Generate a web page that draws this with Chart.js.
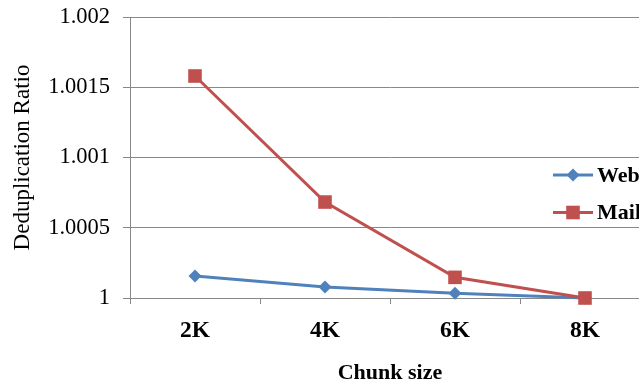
<!DOCTYPE html>
<html>
<head>
<meta charset="utf-8">
<script src="https://cdn.jsdelivr.net/npm/chart.js@4/dist/chart.umd.min.js"></script>
<style>
  html, body { margin: 0; padding: 0; background: #fff; overflow: hidden; }
  #wrap { width: 639px; height: 384px; overflow: hidden; position: relative; }
  canvas { display: block; }
</style>
</head>
<body>
<div id="wrap"><canvas id="c" width="660" height="384"></canvas></div>
<script>
const categories = ['2K', '4K', '6K', '8K'];
const webValues = [1.000157, 1.000078, 1.000033, 1.0];
const mailValues = [1.00158, 1.000683, 1.000147, 1.0];
const yTickValues = [1, 1.0005, 1.001, 1.0015, 1.002];
const yTickLabels = ['1', '1.0005', '1.001', '1.0015', '1.002'];
const seriesNames = ['Web', 'Mail'];
const seriesColors = ['#4F81BD', '#C0504D'];
const seriesMarkers = ['diamond', 'square'];

const SERIF = '"Liberation Serif", "Times New Roman", serif';

function drawMarker(ctx, kind, x, y, color) {
  ctx.save();
  ctx.fillStyle = color;
  ctx.beginPath();
  if (kind === 'diamond') {
    const r = 6.5;
    ctx.moveTo(x, y - r); ctx.lineTo(x + r, y); ctx.lineTo(x, y + r); ctx.lineTo(x - r, y);
    ctx.closePath();
  } else {
    const s = 6.8;
    ctx.rect(x - s, y - s, 2 * s, 2 * s);
  }
  ctx.fill();
  ctx.restore();
}

const legendPlugin = {
  id: 'sideLegend',
  afterDraw(chart) {
    const ctx = chart.ctx;
    const rows = [175, 212.5];
    chart.data.datasets.forEach((ds, i) => {
      const y = rows[i];
      ctx.save();
      ctx.strokeStyle = ds.borderColor;
      ctx.lineWidth = 3;
      ctx.beginPath();
      ctx.moveTo(553, y); ctx.lineTo(593, y);
      ctx.stroke();
      drawMarker(ctx, seriesMarkers[i], 573, y, ds.pointBackgroundColor);
      ctx.fillStyle = '#000';
      ctx.font = 'bold 22px ' + SERIF;
      ctx.textBaseline = 'middle';
      ctx.textAlign = 'left';
      ctx.fillText(ds.label, 597, y + 1);
      ctx.restore();
    });
  }
};

function markerStyle(kind) { return kind === 'diamond' ? 'rectRot' : 'rect'; }

new Chart(document.getElementById('c'), {
  type: 'line',
  data: {
    labels: categories,
    datasets: [
      {
        label: seriesNames[0], data: webValues, order: 1, clip: false,
        borderColor: seriesColors[0], backgroundColor: seriesColors[0],
        pointBackgroundColor: seriesColors[0], pointBorderColor: seriesColors[0],
        pointStyle: markerStyle(seriesMarkers[0]), pointRadius: 6.5, pointBorderWidth: 0,
        borderWidth: 3, tension: 0
      },
      {
        label: seriesNames[1], data: mailValues, order: 0, clip: false,
        borderColor: seriesColors[1], backgroundColor: seriesColors[1],
        pointBackgroundColor: seriesColors[1], pointBorderColor: seriesColors[1],
        pointStyle: markerStyle(seriesMarkers[1]), pointRadius: 9.6, pointBorderWidth: 0,
        borderWidth: 3, tension: 0
      }
    ]
  },
  options: {
    responsive: false,
    animation: false,
    devicePixelRatio: 1,
    layout: { padding: { top: 17, right: 10, left: 0, bottom: 0 } },
    plugins: { legend: { display: false }, tooltip: { enabled: false } },
    scales: {
      x: {
        type: 'category',
        offset: true,
        grid: { display: true, drawOnChartArea: false, drawTicks: true, tickLength: 6, color: '#888888', offset: true },
        border: { display: true, color: '#888888', width: 1 },
        ticks: { color: '#000', font: { family: SERIF, size: 23.5, weight: 'bold' }, padding: 13, maxRotation: 0 },
        title: { display: true, text: 'Chunk size', color: '#000',
                 font: { family: SERIF, size: 22, weight: 'bold', lineHeight: 1 }, padding: { top: 0, bottom: 0 } },
        afterFit(s) { s.height = 86; s.paddingLeft = 0; s.paddingRight = 0; }
      },
      y: {
        min: 1, max: 1.002,
        afterBuildTicks(s) { s.ticks = yTickValues.map(v => ({ value: v })); },
        grid: { color: '#888888', tickLength: 7, drawTicks: true },
        border: { display: true, color: '#888888', width: 1 },
        ticks: { color: '#000', font: { family: SERIF, size: 22.5 }, padding: 13,
                 callback: (v, i) => yTickLabels[i] },
        title: { display: true, text: 'Deduplication Ratio', color: '#000',
                 font: { family: SERIF, size: 23, lineHeight: 1 }, padding: { top: 11.5, bottom: 0 } },
        afterFit(s) { s.width = 130; s.paddingTop = 0; s.paddingBottom = 0; }
      }
    }
  },
  plugins: [legendPlugin]
});
</script>
</body>
</html>
